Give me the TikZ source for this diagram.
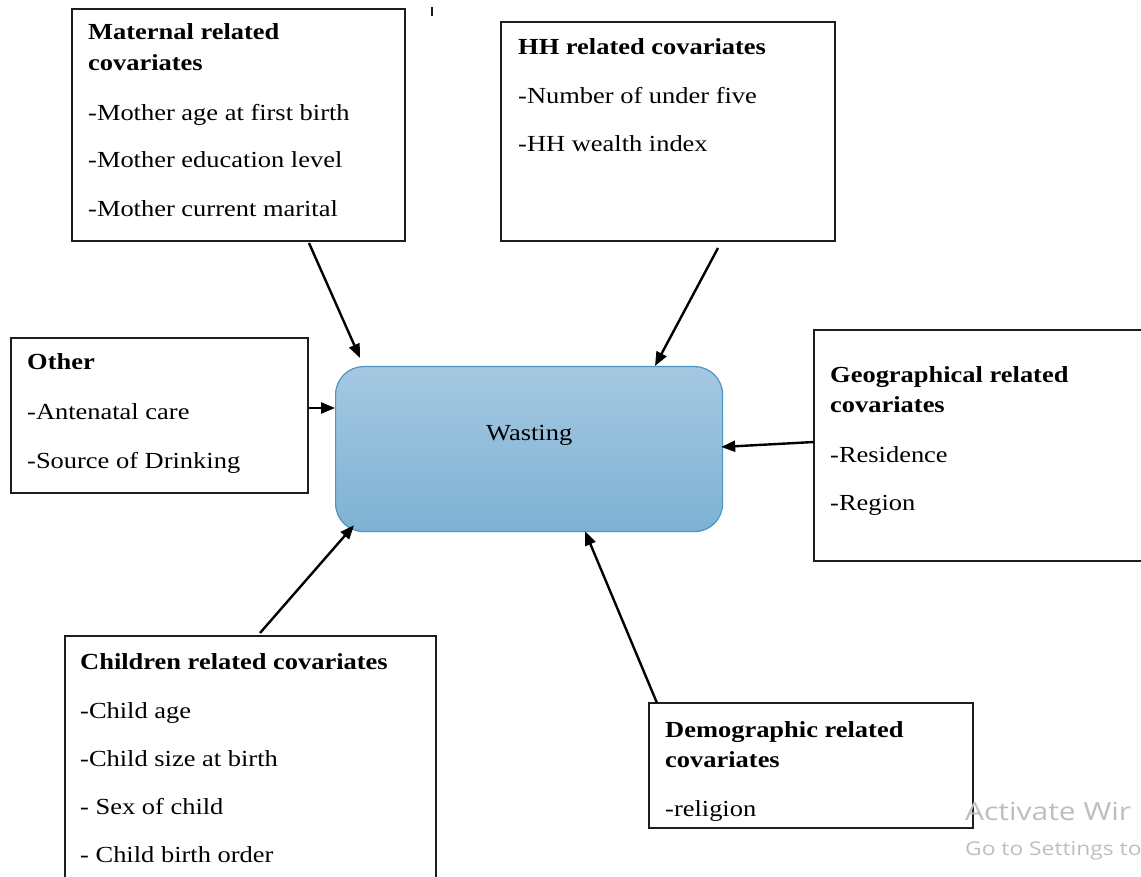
\documentclass[tikz,border=0pt]{standalone}
\usepackage{fontspec}
\setmainfont{Liberation Serif}[FakeStretch=1.15]
\newfontfamily\wmfont{Open Sans}[FakeStretch=1.2]
\usetikzlibrary{arrows.meta,calc}
\definecolor{boxline}{RGB}{30,30,30}
\definecolor{wtop}{RGB}{165,200,225}
\definecolor{wbot}{RGB}{125,178,212}
\definecolor{wline}{RGB}{75,150,195}
\definecolor{wmgray}{RGB}{190,190,190}
\begin{document}
\begin{tikzpicture}[x=1pt,y=-1pt,
 cbox/.style={draw=boxline,line width=1.5pt,anchor=north west,inner sep=0pt,outer sep=0pt},
 txt/.style={anchor=base west,inner sep=0pt,font=\fontsize{23}{27}\selectfont},
 ttl/.style={anchor=base west,inner sep=0pt,font=\fontsize{23}{27}\selectfont\bfseries},
 arr/.style={line width=2.4pt,-{Triangle[length=14pt,width=11pt]}},
 wm/.style={anchor=base west,inner sep=0pt,text=wmgray},
]
\useasboundingbox (0,0) rectangle (1141,877);
\clip (0,0) rectangle (1141,877);
\fill[white] (0,0) rectangle (1141,877);

% boxes
\node[cbox,minimum width=333pt,minimum height=232pt] (mat) at (72,9) {};
\node[cbox,minimum width=334pt,minimum height=219pt] (hh) at (501,22) {};
\node[cbox,minimum width=297pt,minimum height=155pt] (oth) at (11,338) {};
\node[cbox,minimum width=340pt,minimum height=231pt] (geo) at (814,330) {};
\node[cbox,minimum width=371pt,minimum height=260pt] (chi) at (65,636) {};
\node[cbox,minimum width=324pt,minimum height=125pt] (dem) at (649,703) {};
\node[draw=wline,line width=1.2pt,rounded corners=28pt,top color=wtop,bottom color=wbot,
      minimum width=387pt,minimum height=165pt,anchor=north west,inner sep=0pt] (was) at (335,366) {};

% texts
\node[ttl] (mat1) at (88,40) {Maternal related};
\node[ttl] (mat2) at (88,71) {covariates};
\node[txt] (mat3) at (88,121) {-Mother age at first birth};
\node[txt] (mat4) at (88,168) {-Mother education level};
\node[txt] (mat5) at (88,217) {-Mother current marital};

\node[ttl] (hh1) at (518,55) {HH related covariates};
\node[txt] (hh2) at (518,104) {-Number of under five};
\node[txt] (hh3) at (518,152) {-HH wealth index};

\node[ttl] (oth1) at (27,370) {Other};
\node[txt] (oth2) at (27,419) {-Antenatal care};
\node[txt] (oth3) at (27,468) {-Source of Drinking};

\node[txt] (wastxt) at (486,440) {Wasting};

\node[ttl] (geo1) at (830,383) {Geographical related};
\node[ttl] (geo2) at (830,413) {covariates};
\node[txt] (geo3) at (830,462) {-Residence};
\node[txt] (geo4) at (830,510) {-Region};

\node[ttl] (chi1) at (80,669) {Children related covariates};
\node[txt] (chi2) at (80,718) {-Child age};
\node[txt] (chi3) at (80,766) {-Child size at birth};
\node[txt] (chi4) at (80,814) {- Sex of child};
\node[txt] (chi5) at (80,862) {- Child birth order};

\node[ttl] (dem1) at (665,737) {Demographic related};
\node[ttl] (dem2) at (665,767) {covariates};
\begin{scope}
\clip (649,703) rectangle (973,827);
\node[txt] (dem3) at (665,816) {-religion};
\end{scope}

% watermark
\node[wm,font=\wmfont\fontsize{25}{29}\selectfont] (wm1) at (965,820) {Activate Wir};
\node[wm,font=\wmfont\fontsize{19}{23}\selectfont] (wm2) at (965,855) {Go to Settings to};

% small mark
\draw[line width=1.3pt,boxline] (432,7) -- (432,16);

% arrows
\draw[arr] ([xshift=237pt,yshift=-2pt]mat.south west) -- ([xshift=25pt,yshift=8pt]was.north west);
\draw[arr] ([xshift=217pt,yshift=-7pt]hh.south west) -- ([xshift=320pt]was.north west);
\draw[arr] ([yshift=-70pt]oth.north east) -- ([yshift=-42pt]was.north west);
\draw[arr] ([yshift=-112pt]geo.north west) -- ([xshift=-2pt,yshift=-81pt]was.north east);
\draw[arr] ([xshift=195pt,yshift=3pt]chi.north west) -- ([xshift=19pt,yshift=7pt]was.south west);
\draw[arr] ([xshift=8pt]dem.north west) -- ([xshift=250pt,yshift=1pt]was.south west);
\end{tikzpicture}
\end{document}
